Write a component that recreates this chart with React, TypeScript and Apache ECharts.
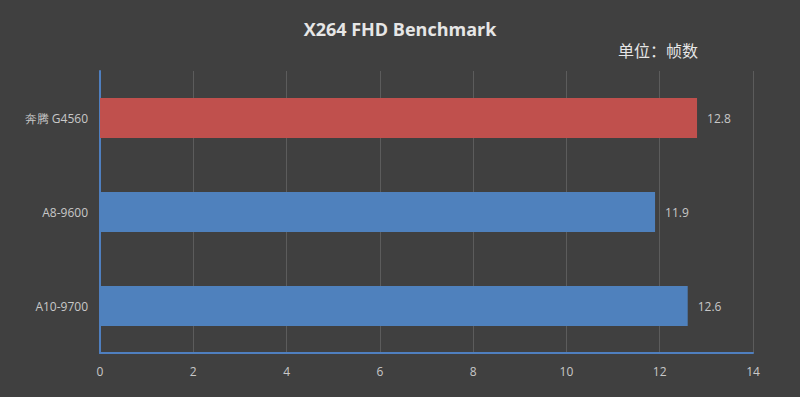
import React, { useEffect, useRef } from "react";
import * as echarts from "echarts";

const categories = ["A10-9700", "A8-9600", "奔腾 G4560"];
const values = [12.6, 11.9, 12.8];
const barColors = ["#4f81bd", "#4f81bd", "#c0504d"];
const xTicks = { min: 0, max: 14, interval: 2 };

export default function App() {
  const ref = useRef<HTMLDivElement>(null);
  useEffect(() => {
    const chart = echarts.init(ref.current!, null, { renderer: "svg" });
    chart.setOption({
      animation: false,
      backgroundColor: "#404040",
      title: {
        text: "X264 FHD Benchmark",
        left: "center",
        top: 15,
        textStyle: { color: "#e6e6e6", fontSize: 18, fontWeight: "bold", fontFamily: "Open Sans" },
      },
      graphic: [
        {
          type: "text",
          left: 618,
          top: 42,
          style: { text: "单位：帧数", fill: "#e6e6e6", fontSize: 16, fontFamily: "Noto Sans CJK SC" },
        },
      ],
      grid: { left: 100, right: 47, top: 71, bottom: 44 },
      xAxis: {
        type: "value",
        min: xTicks.min,
        max: xTicks.max,
        interval: xTicks.interval,
        axisLine: { show: true, lineStyle: { color: "#4f7fbf", width: 2 } },
        axisTick: { show: false },
        splitLine: { show: true, lineStyle: { color: "#5c5c5c", width: 1 } },
        axisLabel: { color: "#c8c8c8", fontSize: 12, margin: 12, fontFamily: "Open Sans" },
      },
      yAxis: {
        type: "category",
        data: categories,
        axisLine: { show: true, lineStyle: { color: "#4f7fbf", width: 2 } },
        axisTick: { show: false },
        axisLabel: { color: "#c8c8c8", fontSize: 12, margin: 12, fontFamily: "Open Sans" },
      },
      series: [
        {
          type: "bar",
          barWidth: 40,
          data: values.map((v, i) => ({ value: v, itemStyle: { color: barColors[i] } })),
          label: {
            show: true,
            position: "right",
            distance: 10,
            color: "#c8c8c8",
            fontSize: 12,
            fontFamily: "Open Sans",
          },
        },
      ],
    });
    return () => chart.dispose();
  }, []);
  return <div ref={ref} style={{ width: 800, height: 397, position: "fixed", left: 0, top: 0 }} />;
}
